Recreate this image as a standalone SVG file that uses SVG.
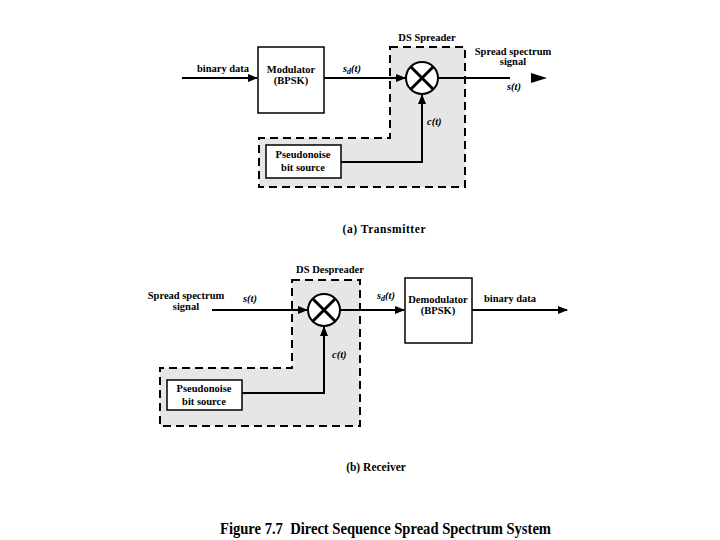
<svg xmlns="http://www.w3.org/2000/svg" width="720" height="540" viewBox="0 0 720 540">
<defs>
<style>
text{font-family:"Liberation Serif","Times New Roman",serif;font-weight:bold;font-size:10.5px;fill:#000}
.i{font-style:italic}
.c{text-anchor:middle}
.box{fill:#fff;stroke:#000;stroke-width:1.5}
.reg{fill:#e6e6e6;stroke:#000;stroke-width:2;stroke-dasharray:8,5}
.ln{fill:none;stroke:#000;stroke-width:2}
.cap{font-size:11.5px}
.fig{font-size:17px}
</style>
<marker id="ah" markerWidth="10" markerHeight="8" refX="9" refY="4" orient="auto" markerUnits="userSpaceOnUse">
<path d="M0,0 L10,4 L0,8 z" fill="#000"/>
</marker>
</defs>
<rect width="720" height="540" fill="#fff"/>

<g id="ds-spreader">
<path class="reg" d="M390,47 H465 V187 H259 V138 H390 Z"/>
<text class="c" x="427" y="41">DS Spreader</text>
</g>
<g id="ds-despreader">
<path class="reg" d="M292,280 H360 V426 H160 V368 H292 Z"/>
<text class="c" x="330" y="273">DS Despreader</text>
</g>

<g id="connectors">
<line class="ln" x1="182" y1="78" x2="257" y2="78" marker-end="url(#ah)"/>
<line class="ln" x1="324" y1="78" x2="405" y2="78" marker-end="url(#ah)"/>
<line class="ln" x1="438" y1="78" x2="510" y2="78"/>
<path d="M531,73 L547,78 L531,83 z" fill="#000"/>
<path class="ln" d="M341,162 H422 V95" marker-end="url(#ah)"/>
<line class="ln" x1="212" y1="310" x2="307" y2="310" marker-end="url(#ah)"/>
<path class="ln" d="M242,393 H324 V327" marker-end="url(#ah)"/>
<line class="ln" x1="340" y1="310" x2="404" y2="310" marker-end="url(#ah)"/>
<line class="ln" x1="472" y1="310" x2="567" y2="310" marker-end="url(#ah)"/>
</g>

<g id="tx-labels">
<text class="c" x="223" y="72">binary data</text>
<text class="i" x="343" y="72">s<tspan font-size="8" dy="2">d</tspan><tspan dy="-2">(t)</tspan></text>
<text class="c" x="513" y="55">Spread spectrum</text>
<text class="c" x="513" y="65">signal</text>
<text class="i" x="507" y="90">s(t)</text>
<text class="i" x="427" y="125">c(t)</text>
</g>

<g id="modulator">
<rect class="box" x="258" y="47" width="66" height="66"/>
<text class="c" x="291" y="73">Modulator</text>
<text class="c" x="291" y="84">(BPSK)</text>
</g>

<g id="multiplier-tx">
<circle cx="422" cy="78" r="16" fill="#fff" stroke="#000" stroke-width="2"/>
<path d="M411,67 L433,89 M433,67 L411,89" stroke="#000" stroke-width="3"/>
</g>

<g id="pn-tx">
<rect class="box" x="266" y="145" width="75" height="33"/>
<text class="c" x="303" y="158">Pseudonoise</text>
<text class="c" x="303" y="171">bit source</text>
</g>

<text class="c cap" x="384" y="233" textLength="83">(a) Transmitter</text>

<g id="rx-labels">
<text class="c" x="186" y="299">Spread spectrum</text>
<text class="c" x="186" y="310">signal</text>
<text class="i" x="243" y="302">s(t)</text>
<text class="i" x="332" y="358">c(t)</text>
<text class="i" x="377" y="299">s<tspan font-size="8" dy="2">d</tspan><tspan dy="-2">(t)</tspan></text>
<text class="c" x="510" y="302">binary data</text>
</g>

<g id="multiplier-rx">
<circle cx="324" cy="310" r="16" fill="#fff" stroke="#000" stroke-width="2"/>
<path d="M313,299 L335,321 M335,299 L313,321" stroke="#000" stroke-width="3"/>
</g>

<g id="pn-rx">
<rect class="box" x="167" y="380" width="75" height="30"/>
<text class="c" x="204" y="392">Pseudonoise</text>
<text class="c" x="204" y="405">bit source</text>
</g>

<g id="demodulator">
<rect class="box" x="405" y="278" width="67" height="65"/>
<text class="c" x="438" y="303">Demodulator</text>
<text class="c" x="438" y="314">(BPSK)</text>
</g>

<text class="c cap" x="376" y="471">(b) Receiver</text>

<text class="fig" x="220" y="534" xml:space="preserve" textLength="331" lengthAdjust="spacingAndGlyphs">Figure 7.7  Direct Sequence Spread Spectrum System</text>
</svg>
